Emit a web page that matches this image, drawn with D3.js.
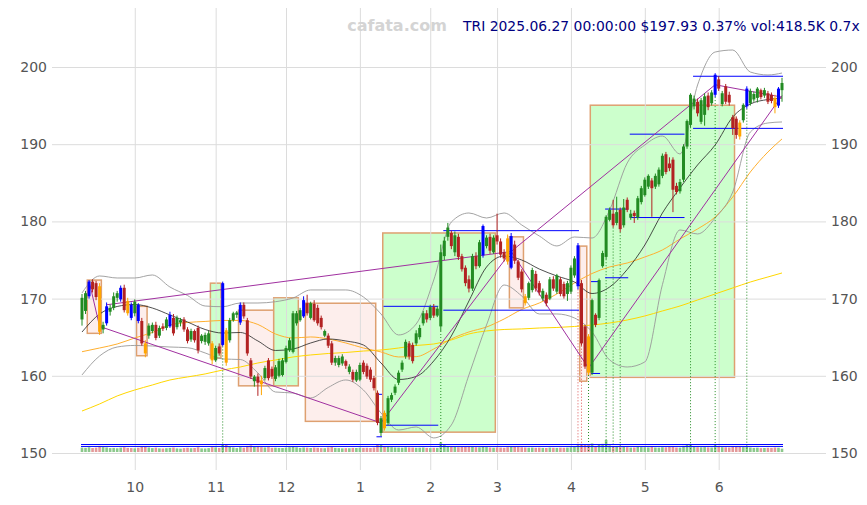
<!DOCTYPE html>
<html><head><meta charset="utf-8">
<script src="https://cdn.jsdelivr.net/npm/d3@7"></script>
<style>body{margin:0;background:#fff}svg{display:block}</style>
</head><body><svg id="c" width="867" height="505"></svg>
<script>
// ---------- DATA ----------
const ticker = "TRI";
const headerText = "TRI 2025.06.27 00:00:00 $197.93 0.37% vol:418.5K 0.7x";
const watermark = "cafata.com";
const monthIdx = [15,38,58,79,99,118,139,160,181];
const monthLabels = ["10","11","12","1","2","3","4","5","6"];
const priceTicks = [150,160,170,180,190,200];

// daily candles [open, high, low, close], Sep 10 2024 .. Jun 27 2025
const candles = [
[167.3,170.6,166.5,170.1],[168.4,171.0,168.0,170.7],[170.3,172.4,170.0,172.2],[172.2,172.5,170.8,171.2],[172.0,172.3,169.8,170.2],
[171.6,172.0,165.3,165.7],[166.0,167.0,165.5,166.6],[166.8,169.5,166.5,169.0],[168.3,169.2,167.8,168.8],[168.8,170.8,168.5,170.3],
[170.1,171.0,169.6,170.7],[169.9,171.7,169.6,171.4],[171.4,171.8,168.2,168.5],[169.7,170.1,167.8,168.1],[169.2,169.5,167.2,167.5],
[168.1,169.9,167.7,169.6],[169.2,169.4,166.8,167.1],[167.1,167.5,163.9,164.2],[164.2,164.6,162.4,162.9],[165.2,166.8,164.8,166.5],
[165.8,166.9,165.5,166.6],[166.6,167.0,164.6,164.9],[165.2,166.5,164.9,166.2],[166.4,166.8,165.8,166.1],[166.2,167.6,165.9,167.3],
[166.4,168.3,166.2,167.9],[167.5,168.0,165.2,165.5],[166.3,167.8,166.0,167.5],[166.9,167.5,166.4,167.2],[167.3,167.6,165.7,166.0],
[166.0,166.3,164.2,164.5],[164.7,166.1,164.4,165.8],[165.8,166.0,164.3,164.6],[166.2,166.5,162.9,163.3],[164.5,165.4,164.2,165.2],
[164.4,165.6,164.0,165.3],[164.2,165.8,163.9,165.5],[164.2,164.5,161.5,162.0],[162.0,163.9,161.8,163.6],[163.8,164.2,162.6,162.9],
[164.0,172.2,163.8,172.0],[165.9,166.2,161.3,161.7],[164.6,167.5,164.3,167.2],[167.2,168.3,167.0,168.1],[167.9,168.4,167.5,168.2],
[166.9,169.5,166.6,169.2],[169.2,169.5,167.4,167.7],[167.2,167.5,162.6,162.9],[162.0,162.3,159.6,159.9],[159.3,160.1,158.6,159.9],
[159.9,160.3,157.4,159.1],[159.4,160.0,157.5,158.9],[159.7,161.3,159.4,161.0],[162.0,162.3,159.4,159.7],[160.9,161.2,159.6,159.9],
[159.6,161.4,159.3,161.1],[160.0,162.2,159.8,161.9],[160.1,162.3,159.9,162.0],[161.8,163.9,161.6,163.6],[163.3,164.9,163.1,164.6],
[163.1,168.4,162.9,168.1],[166.8,168.4,166.5,168.1],[167.2,168.8,167.0,168.5],[167.7,170.3,167.5,169.8],[169.4,170.5,167.8,168.1],
[167.5,169.6,167.3,169.4],[169.3,169.8,167.0,167.2],[168.8,169.2,166.5,166.8],[167.5,167.8,166.0,166.3],[165.2,166.0,165.0,165.8],
[165.2,165.5,163.6,163.9],[164.2,164.5,161.4,161.7],[161.7,162.6,161.3,162.3],[161.4,162.6,161.1,162.3],[161.6,162.8,161.3,162.5],
[161.9,162.1,160.9,161.3],[160.5,161.5,160.2,161.2],[160.5,160.8,159.2,159.5],[159.4,160.8,159.2,160.5],[159.5,161.7,159.3,161.4],
[161.7,162.0,160.2,160.5],[161.3,161.6,159.6,159.9],[160.8,161.1,159.2,159.5],[159.7,160.0,158.1,158.4],[157.8,158.1,153.6,153.9],
[152.6,154.8,152.2,154.5],[155.2,155.5,152.9,153.2],[153.9,157.4,153.6,157.1],[156.9,157.8,156.6,157.5],[157.8,158.9,157.5,158.6],
[159.1,160.7,158.8,160.4],[160.8,162.0,160.5,161.7],[162.5,164.7,162.2,164.4],[164.2,164.5,162.1,162.5],[164.0,164.3,161.6,161.9],
[164.2,165.9,163.9,165.5],[165.0,166.6,164.7,166.2],[166.8,168.4,166.5,168.1],[168.1,168.5,166.9,167.3],[167.5,169.2,167.2,168.9],
[168.9,169.3,167.5,167.8],[167.8,169.0,167.6,168.7],[166.4,177.0,165.8,176.0],[175.5,178.0,175.0,177.5],[178.0,179.8,177.5,179.2],
[178.5,178.8,176.4,176.8],[176.0,178.7,175.5,178.2],[178.0,178.4,175.0,175.4],[175.5,175.8,173.5,173.8],[174.0,174.3,171.6,172.0],
[172.5,173.0,170.8,171.3],[171.3,175.8,171.0,175.5],[175.5,176.0,173.8,174.2],[174.2,177.6,174.0,177.3],[175.6,179.6,175.3,179.4],
[176.8,178.2,176.5,177.9],[178.0,178.4,175.8,176.2],[176.0,178.2,175.8,177.9],[178.2,181.0,177.0,177.4],[177.4,177.8,175.3,175.7],
[176.0,176.4,174.8,175.2],[177.8,178.3,174.4,174.8],[174.0,178.5,173.8,178.1],[177.0,177.5,174.5,174.9],[174.8,175.0,172.4,172.7],
[173.5,173.8,170.8,171.2],[170.3,170.6,169.1,169.4],[170.1,172.2,169.8,172.0],[171.1,174.0,170.8,173.7],[173.2,173.6,170.9,171.3],
[172.0,172.3,170.4,170.8],[170.0,171.3,169.7,171.0],[170.5,170.8,169.0,169.4],[170.0,172.8,169.8,172.5],[172.5,172.9,171.0,171.3],
[170.9,173.2,170.6,173.0],[172.5,172.8,170.3,170.6],[171.9,172.2,170.0,170.3],[170.6,172.3,169.7,172.0],[170.9,174.3,170.6,174.0],
[173.0,175.5,172.7,175.2],[171.6,177.2,171.2,176.9],[172.0,172.4,163.9,164.2],[166.4,166.6,160.9,161.2],[165.1,165.4,160.1,160.4],
[160.4,170.0,160.1,169.8],[167.9,168.1,166.3,166.6],[167.5,172.6,167.2,172.4],[174.2,176.2,174.0,175.9],[175.4,180.8,175.1,180.6],
[180.2,181.8,180.0,181.5],[181.0,182.8,179.2,179.5],[179.8,183.2,179.5,181.2],[181.5,181.8,178.6,179.0],[179.5,182.9,179.2,181.8],
[182.8,183.1,181.2,181.5],[180.5,181.5,180.2,181.0],[181.1,181.4,179.8,180.7],[180.5,183.3,180.2,183.0],[182.5,184.6,182.2,184.3],
[183.4,185.7,183.2,185.4],[184.5,186.1,184.2,185.9],[185.3,185.6,180.6,184.3],[184.5,186.2,184.2,185.9],[184.8,187.0,184.5,186.7],
[185.9,188.8,185.6,188.5],[188.7,189.0,186.1,186.4],[187.5,188.3,186.5,186.9],[188.0,188.3,181.2,184.1],[184.6,185.0,183.5,183.8],
[183.9,185.5,183.6,185.1],[185.4,190.0,185.1,189.7],[189.7,193.2,189.4,193.0],[192.5,196.6,192.2,196.4],[194.9,196.3,194.5,195.9],
[195.5,195.9,193.6,194.0],[192.9,196.0,192.6,195.7],[193.8,196.6,192.4,196.2],[196.3,196.7,194.4,194.8],[195.3,197.0,195.0,196.7],
[196.4,199.2,196.1,199.0],[198.4,198.8,196.9,197.2],[195.2,196.9,194.9,196.6],[197.5,197.8,195.2,195.5],[196.4,196.8,195.0,195.4],
[193.5,193.8,191.2,192.1],[193.3,193.6,190.7,191.2],[192.8,193.1,190.6,191.0],[193.1,195.3,192.8,195.1],[194.9,197.5,194.6,197.2],
[195.3,197.2,195.0,196.9],[195.8,196.8,195.5,196.5],[196.0,197.4,195.4,197.2],[197.0,197.2,195.8,196.1],[196.3,197.3,196.0,197.0],
[196.6,196.9,195.2,195.5],[196.4,196.7,195.3,195.6],[196.0,196.4,194.0,194.8],[195.0,197.4,194.7,197.2],[197.0,198.6,195.5,197.93]
];

// volume (thousands)
const volumes = [
620,580,700,540,610,980,720,650,520,560,490,610,700,560,530,480,590,760,820,640,
520,610,480,450,500,560,620,470,430,520,580,500,540,690,470,450,520,700,650,560,
1400,1250,800,640,520,700,600,980,1100,760,820,700,640,720,580,600,560,540,620,700,
950,680,560,640,600,540,620,580,520,500,640,720,560,520,480,510,500,560,540,600,
560,580,540,620,1350,1200,900,820,700,640,620,600,680,640,620,580,600,640,560,520,
580,560,1900,1300,900,820,760,700,740,800,760,820,700,680,900,720,640,600,660,620,
580,700,820,760,720,680,640,600,620,580,600,560,540,620,580,560,600,580,620,700,
800,1100,1500,1400,1300,1600,900,1200,1500,2600,1100,900,820,800,760,700,620,640,780,720,
700,660,900,640,620,700,680,760,900,640,620,1000,1300,1200,820,700,680,720,660,640,
1100,760,700,680,640,900,820,760,720,800,640,560,600,520,540,580,560,640,600,418.5
];

// highlighted signal candles
const blueIdx = [2,7,11,14,16,25,40,45,63,114,122,141,180,189,198];
const orangeIdx = [5,13,18,37,41,51,86,121,126,144,187,197];

// indicator lines sampled at these candle indices
const sampleIdx = [0,5,10,15,20,25,30,35,40,45,50,55,60,65,70,75,80,85,90,95,100,105,110,115,120,125,130,135,140,145,150,155,160,165,170,175,180,185,190,195,199];
const sma20 = [165.67,168.0,168.98,169.24,168.78,167.88,166.97,166.0,165.54,165.61,164.51,163.28,163.47,164.25,164.77,164.51,163.99,161.66,159.52,159.91,161.92,165.16,169.69,174.09,175.52,175.0,173.83,172.93,172.15,170.66,171.5,173.77,176.94,181.09,184.33,187.31,189.9,193.52,195.21,195.79,195.98];
const bbUpper = [170.73,172.93,172.67,172.67,173.06,171.5,170.4,169.04,168.95,169.43,169.43,169.6,170.08,171.12,171.12,171.12,170.21,168.01,165.29,166.71,172.41,179.92,181.09,180.44,181.09,179.54,178.11,176.82,177.98,177.85,181.48,187.57,189.9,191.06,188.73,197.67,201.94,202.2,199.35,198.97,199.22];
const bbLower = [160.11,162.57,163.73,163.93,163.86,163.73,163.64,162.96,162.18,162.11,160.37,157.9,157.77,157.13,158.49,159.46,158.16,155.18,152.98,153.37,151.95,153.63,160.11,166.58,171.76,170.34,168.01,168.01,167.49,165.68,162.05,161.14,161.79,171.8,178.89,178.37,180.44,183.81,191.58,192.75,192.88];
const ma50 = [163.12,163.6,164.12,164.9,165.61,166.58,166.91,167.04,167.17,167.17,166.65,165.42,164.9,165.03,164.77,164.25,163.6,163.09,162.44,162.48,163.47,164.77,165.68,166.32,167.36,168.59,169.43,170.6,172.02,173.25,174.1,174.61,175.39,176.3,177.72,179.02,180.57,183.16,186.4,188.99,190.68];
const ma200 = [155.44,156.35,157.39,158.16,158.81,159.46,159.85,160.24,160.75,161.14,161.66,162.05,162.44,162.7,162.89,163.02,163.21,163.34,163.6,163.93,164.12,164.64,165.42,165.81,166.0,166.07,166.19,166.26,166.39,166.58,166.84,167.23,167.75,168.4,169.04,169.82,170.6,171.38,172.15,172.8,173.32];

// boxes [startIdx, endIdx, low, high, kind]
const boxes = [
[2,5,165.5,172.4,"down"],[16,18,162.6,169.0,"down"],[37,39,162.3,172.0,"up"],[45,54,158.7,168.5,"down"],
[55,61,158.7,170.1,"up"],[64,83,154.1,169.4,"down"],[86,117,152.7,178.5,"up"],[122,125,168.8,178.0,"down"],
[142,143,159.3,176.8,"down"],[145,185,159.8,195.05,"up"]
];

// zigzag pivot lines [idx, price]
const zigzagA = [[2,172.3],[5,166.4],[85,153.9],[122,176.1],[144,161.0],[199,196.3]];
const zigzagB = [[7,169.2],[122,176.1],[180,197.7],[199,196.1]];

// blue level segments [startIdx, endIdx, price]
const levels = [
[86,101,169.0],[86,101,153.6],[103,141,178.8],[103,141,168.5],[84,85,157.6],[84,85,152.1],
[145,147,172.2],[145,147,160.3],[149,155,181.6],[149,155,172.7],[156,171,191.3],[156,171,180.5],
[174,199,198.8],[174,199,192.05],[0,199,151.1],[0,199,150.85]
];

// signal days (dotted verticals)
const buySignals = [40,102,144,149,151,153,173,180,189];
const sellSignals = [141,142];

// ---------- DRAW ----------
const svg = d3.select("#c");
const x = d3.scaleLinear().domain([0,199]).range([82,782]);
const y = d3.scaleLinear().domain([150,200]).range([453,67]);
const step = x(1)-x(0);
const GREEN="#228b22", RED="#b22222", BLUE="#0000ff", ORANGE="#ffa500";

// boxes
svg.append("g").selectAll("rect").data(boxes).join("rect")
  .attr("x",d=>x(d[0])-step/2).attr("width",d=>x(d[1])-x(d[0])+step)
  .attr("y",d=>y(d[3])).attr("height",d=>y(d[2])-y(d[3]))
  .attr("fill",d=>d[4]==="up"?"#ccffcc":"#fdeeec")
  .attr("stroke","#dea070").attr("stroke-width",1.5);

// grid via axes
const gx = svg.append("g").attr("transform","translate(0,470)")
  .call(d3.axisBottom(x).tickValues(monthIdx).tickFormat((d,i)=>monthLabels[i]).tickSize(-462).tickPadding(11));
gx.select(".domain").remove();
gx.selectAll("line").attr("stroke","#dcdcdc");
gx.selectAll("text").attr("font-family","DejaVu Sans").attr("font-size",14).attr("fill","#555").attr("dy","0.8em");

const gl = svg.append("g").attr("transform","translate(52,0)")
  .call(d3.axisLeft(y).tickValues(priceTicks).tickSize(0).tickPadding(5));
gl.select(".domain").remove();
gl.selectAll("text").attr("font-family","DejaVu Sans").attr("font-size",14).attr("fill","#555");
const gr = svg.append("g").attr("transform","translate(826,0)")
  .call(d3.axisRight(y).tickValues(priceTicks).tickSize(-774).tickPadding(5));
gr.select(".domain").remove();
gr.selectAll("line").attr("stroke","#dcdcdc");
gr.selectAll("text").attr("font-family","DejaVu Sans").attr("font-size",14).attr("fill","#555");

// volume
const vh = d3.scalePow().exponent(0.7).domain([0,d3.max(volumes)]).range([0,12]);
svg.append("g").selectAll("rect").data(volumes).join("rect")
  .attr("x",(d,i)=>x(i)-1.3).attr("width",2.6)
  .attr("y",d=>452-vh(d)).attr("height",d=>vh(d))
  .attr("fill",(d,i)=>candles[i][3]>=candles[i][0]?"#8cc88c":"#e39a9a");

// indicator lines
const lineGen = arr => d3.line().x((d,i)=>x(sampleIdx[i])).y(d=>y(d)).curve(d3.curveMonotoneX)(arr);
svg.append("path").attr("d",lineGen(ma200)).attr("fill","none").attr("stroke","#ffd700").attr("stroke-width",1);
svg.append("path").attr("d",lineGen(ma50)).attr("fill","none").attr("stroke","#ffb030").attr("stroke-width",1);
svg.append("path").attr("d",lineGen(bbUpper)).attr("fill","none").attr("stroke","#999").attr("stroke-width",0.9);
svg.append("path").attr("d",lineGen(bbLower)).attr("fill","none").attr("stroke","#999").attr("stroke-width",0.9);
svg.append("path").attr("d",lineGen(sma20)).attr("fill","none").attr("stroke","#222").attr("stroke-width",0.8);

// dotted signal lines
svg.append("g").selectAll("line").data(buySignals.map(i=>[i,GREEN]).concat(sellSignals.map(i=>[i,"#dd5555"]))).join("line")
  .attr("x1",d=>x(d[0])).attr("x2",d=>x(d[0]))
  .attr("y1",d=>y(candles[d[0]][2])).attr("y2",y(150))
  .attr("stroke",d=>d[1]).attr("stroke-width",1).attr("stroke-dasharray","1,2");

// level segments
svg.append("g").selectAll("line").data(levels).join("line")
  .attr("x1",d=>x(d[0])-1).attr("x2",d=>x(d[1])+1)
  .attr("y1",d=>y(d[2])).attr("y2",d=>y(d[2]))
  .attr("stroke",BLUE).attr("stroke-width",1);

// zigzags
const zz = d3.line().x(d=>x(d[0])).y(d=>y(d[1]));
[zigzagA,zigzagB].forEach(z=>svg.append("path").attr("d",zz(z)).attr("fill","none").attr("stroke","#a030a0").attr("stroke-width",1));

// candles
const colorOf = i => blueIdx.includes(i)?BLUE:orangeIdx.includes(i)?ORANGE:(candles[i][3]>=candles[i][0]?GREEN:RED);
const cg = svg.append("g").selectAll("g").data(candles).join("g");
cg.append("line").attr("x1",(d,i)=>x(i)).attr("x2",(d,i)=>x(i))
  .attr("y1",d=>y(d[1])).attr("y2",d=>y(d[2])).attr("stroke",(d,i)=>colorOf(i)).attr("stroke-width",1);
cg.append("rect").attr("x",(d,i)=>x(i)-1.5).attr("width",3)
  .attr("y",d=>y(Math.max(d[0],d[3])))
  .attr("height",d=>Math.max(1,Math.abs(y(d[0])-y(d[3]))))
  .attr("fill",(d,i)=>colorOf(i));

// header
svg.append("text").attr("x",397).attr("y",31).attr("text-anchor","middle")
  .attr("font-family","DejaVu Sans").attr("font-weight","bold").attr("font-size",16).attr("fill","#d4d4d4").text(watermark);
svg.append("text").attr("x",463).attr("y",31)
  .attr("font-family","DejaVu Sans").attr("font-size",13.9).attr("fill","#000080").text(headerText);
</script></body></html>
